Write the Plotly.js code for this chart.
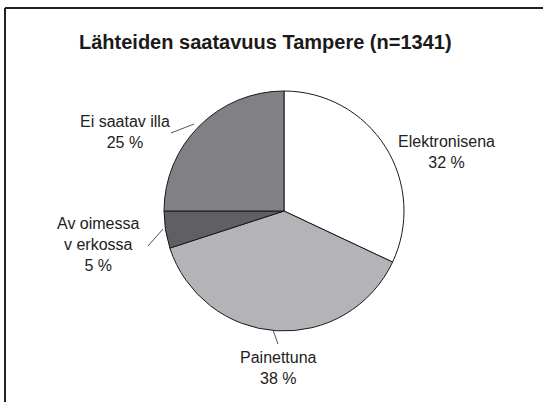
<!DOCTYPE html>
<html>
<head>
<meta charset="utf-8">
<script src="https://cdn.plot.ly/plotly-3.0.1.min.js"></script>
<style>html,body{margin:0;padding:0;background:#fff;}#chart{width:543px;height:402px;}</style>
</head>
<body>
<div id="chart"></div>
<script>
var categories = ["Elektronisena", "Painettuna", "Avoimessa verkossa", "Ei saatavilla"];
var labelLines = [["Elektronisena"], ["Painettuna"], ["Av oimessa", "v erkossa"], ["Ei saatav illa"]];
var values = [32, 38, 5, 25];
var colors = ["#ffffff", "#b4b4b8", "#606064", "#808085"];
var titleText = "Lähteiden saatavuus Tampere (n=1341)";

var W = 543, H = 402;
function px(x) { return x / W; }
function py(y) { return 1 - y / H; }

var cx = 284, cy = 211, r = 120;

var total = values.reduce(function (a, b) { return a + b; }, 0);

var trace = {
  type: "pie",
  labels: categories,
  values: values,
  sort: false,
  direction: "clockwise",
  rotation: 0,
  textinfo: "none",
  hoverinfo: "label+percent",
  marker: { colors: colors, line: { color: "#1a1a1a", width: 1 } },
  domain: { x: [px(cx - r), px(cx + r)], y: [py(cy + r), py(cy - r)] },
  showlegend: false
};

var labelPos = [[446, 152], [278, 368], [98, 244], [125, 132]];
var annotations = [];
for (var i = 0; i < categories.length; i++) {
  var lines = labelLines[i].concat([Math.round(values[i] / total * 100) + " %"]);
  annotations.push({
    xref: "paper", yref: "paper",
    x: px(labelPos[i][0]), y: py(labelPos[i][1]),
    xanchor: "center", yanchor: "middle",
    text: lines.join("<br>"),
    showarrow: false,
    align: "center",
    font: { family: "Liberation Sans, Arial, sans-serif", size: 16, color: "#222" }
  });
}
annotations.push({
  xref: "paper", yref: "paper", x: px(265), y: py(42),
  xanchor: "center", yanchor: "middle", showarrow: false,
  text: "<b>" + titleText + "</b>",
  font: { family: "Liberation Sans, Arial, sans-serif", size: 20, color: "#1a1a1a" }
});

var leaders = [[171, 133, 194, 124], [148, 246, 163, 229], [273, 330, 278, 344]];
var shapes = leaders.map(function (l) {
  return { type: "line", xref: "paper", yref: "paper",
    x0: px(l[0]), y0: py(l[1]), x1: px(l[2]), y1: py(l[3]),
    line: { color: "#555", width: 1 } };
});
shapes.push({ type: "line", xref: "paper", yref: "paper", x0: px(5), y0: py(8), x1: px(W + 2), y1: py(8), line: { color: "#222", width: 2 } });
shapes.push({ type: "line", xref: "paper", yref: "paper", x0: px(5), y0: py(8), x1: px(5), y1: py(H + 2), line: { color: "#222", width: 2 } });

var layout = {
  width: W, height: H,
  margin: { l: 0, r: 0, t: 0, b: 0 },
  paper_bgcolor: "#fff",
  annotations: annotations,
  shapes: shapes,
  showlegend: false
};
Plotly.newPlot("chart", [trace], layout, { displayModeBar: false, staticPlot: true });
</script>
</body>
</html>
